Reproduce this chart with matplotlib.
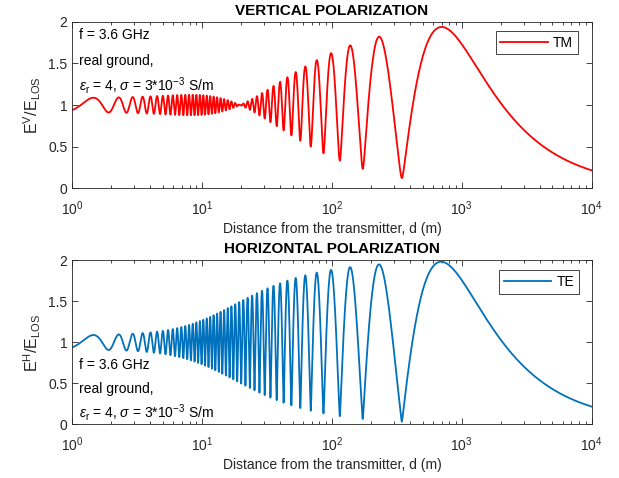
"""Champ relatif d'un modèle à deux rayons (direct + réfléchi au sol)
pour les polarisations verticale et horizontale."""

import numpy as np
import matplotlib.pyplot as plt

# Paramètres du lien
freq_ghz = 3.6
eps_r = 4
sigma = 3e-3          # S/m
h_tx = 8.0            # hauteur émetteur (m)
h_rx = 1.8            # hauteur récepteur (m)
d_min, d_max = 1, 1e4
n_points = 60000

# Axes et libellés
x_ticks = [1, 10, 100, 1000, 10000]
x_ticklabels = ['$10^0$', '$10^1$', '$10^2$', '$10^3$', '$10^4$']
y_ticks = [0, 0.5, 1, 1.5, 2]
y_ticklabels = ['0', '0.5', '1', '1.5', '2']
titres = ['VERTICAL POLARIZATION', 'HORIZONTAL POLARIZATION']
legendes = ['TM', 'TE']
ylabels = [r'E$^{\rm V}$/E$_{\rm LOS}$', r'E$^{\rm H}$/E$_{\rm LOS}$']
xlabel = 'Distance from the transmitter, d (m)'
couleurs = ['#FF0000', '#0072BD']

lam = 299792458 / (freq_ghz * 1e9)
d = np.logspace(np.log10(d_min), np.log10(d_max), n_points)


def reflexion(psi, pol):
    """Coefficient de réflexion de Fresnel (angle rasant psi)."""
    eps_c = eps_r - 1j * 60 * lam * sigma
    racine = np.sqrt(eps_c - np.cos(psi) ** 2)
    if pol == 'V':
        g = (eps_c * np.sin(psi) - racine) / (eps_c * np.sin(psi) + racine)
    else:
        g = (np.sin(psi) - racine) / (np.sin(psi) + racine)
    return -np.abs(g)


def champ_relatif(pol):
    r_los = np.sqrt(d ** 2 + (h_tx - h_rx) ** 2)
    r_ref = np.sqrt(d ** 2 + (h_tx + h_rx) ** 2)
    psi_los = np.arctan2(h_tx - h_rx, d)
    psi_ref = np.arctan2(h_tx + h_rx, d)
    # diagramme des antennes (dipôles courts) sur les deux trajets
    gain = (np.cos(psi_ref) / np.cos(psi_los)) ** 2
    gamma = reflexion(psi_ref, pol)
    phase = np.exp(-1j * 2 * np.pi * (r_ref - r_los) / lam)
    return np.abs(1 + gamma * gain * (r_los / r_ref) * phase)


plt.rcParams['font.family'] = ['Liberation Sans', 'DejaVu Sans']
plt.rcParams['mathtext.fontset'] = 'custom'
plt.rcParams['mathtext.rm'] = 'Liberation Sans'
plt.rcParams['mathtext.it'] = 'Liberation Sans:italic'
plt.rcParams['font.size'] = 10

fig = plt.figure(figsize=(6.19, 4.78), dpi=100)
positions = [[0.1168, 0.606, 0.8388, 0.3486], [0.1168, 0.1123, 0.8388, 0.343]]
gris = '#262626'

texte = ['f = %.1f GHz' % freq_ghz, 'real ground,',
         r'$\epsilon_{\rm r}$ = %d, $\sigma$ = 3*10$^{-3}$ S/m' % eps_r]
y_textes = [[0.92, 0.765, 0.615], [0.36, 0.215, 0.07]]
ancres_leg = [(0.974, 0.946), (0.976, 0.941)]

for i, pol in enumerate(['V', 'H']):
    ax = fig.add_axes(positions[i])
    ax.plot(d, champ_relatif(pol), color=couleurs[i], lw=1.3, label=legendes[i])
    ax.set_xscale('log')
    ax.set_xlim(d_min, d_max)
    ax.set_ylim(0, 2)
    ax.set_xticks(x_ticks)
    ax.set_xticklabels(x_ticklabels)
    ax.set_yticks(y_ticks)
    ax.set_yticklabels(y_ticklabels)
    ax.tick_params(which='both', direction='in', top=True, right=True,
                   colors=gris, labelcolor=gris, width=0.6)
    ax.tick_params(which='major', length=4)
    ax.tick_params(which='minor', length=2)
    ax.tick_params(axis='x', which='major', pad=8)
    for s in ax.spines.values():
        s.set_color(gris)
        s.set_linewidth(0.6)
    ax.set_title(titres[i], fontweight='bold', fontsize=11, pad=5, color='black')
    ax.set_xlabel(xlabel, color=gris, labelpad=3)
    ax.set_ylabel(ylabels[i], color=gris, labelpad=4, fontsize=11.5)
    for ligne, y in zip(texte, y_textes[i]):
        ax.text(0.012, y, ligne, transform=ax.transAxes, va='center', ha='left', fontsize=10)
    leg = ax.legend(loc='upper right', bbox_to_anchor=ancres_leg[i], borderaxespad=0,
                    fancybox=False, edgecolor=gris, framealpha=1, handlelength=3.4,
                    borderpad=0.35, handletextpad=0.4)
    leg.get_frame().set_linewidth(0.6)

fig.savefig('out.png', dpi=100)
